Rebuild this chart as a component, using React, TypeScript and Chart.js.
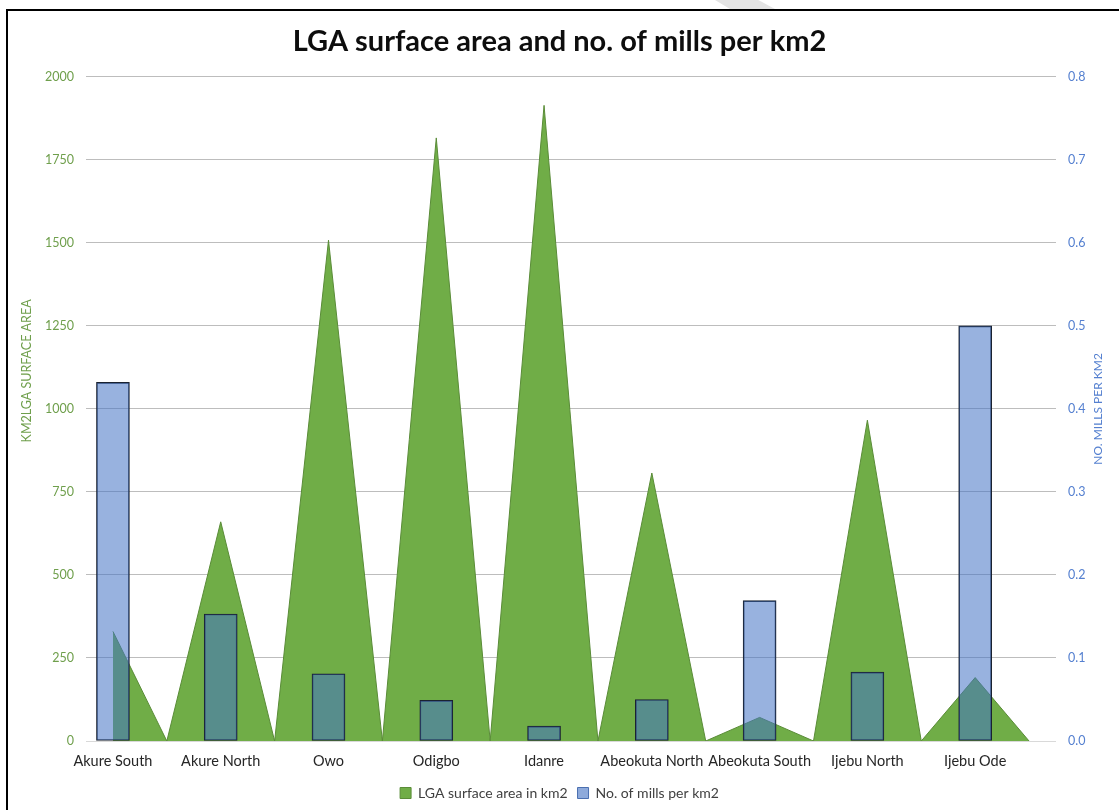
import React, { useEffect, useRef } from 'react';
import { Chart, registerables } from 'chart.js';

Chart.register(...registerables);

const categories = [
  'Akure South',
  'Akure North',
  'Owo',
  'Odigbo',
  'Idanre',
  'Abeokuta North',
  'Abeokuta South',
  'Ijebu North',
  'Ijebu Ode',
];
const surfaceArea = [330, 660, 1508, 1816, 1914, 807, 71, 966, 191];
const millsPerKm2 = [0.432, 0.153, 0.081, 0.049, 0.018, 0.05, 0.169, 0.083, 0.5];

const seriesNames = ['LGA surface area in km2', 'No. of mills per km2'];
const chartTitle = 'LGA surface area and no. of mills per km2';
const leftAxisTitle = 'KM2LGA SURFACE AREA';
const rightAxisTitle = 'NO. MILLS PER KM2';

const GREEN = '#70AD47';
const GREEN_EDGE = '#5a8c38';
const BLUE_FILL = 'rgba(68,114,196,0.55)';
const LEFT_TICK = '#6f9f4c';
const RIGHT_TICK = '#5580d0';

export default function App() {
  const ref = useRef<HTMLCanvasElement | null>(null);

  useEffect(() => {
    if (!ref.current) return;
    Chart.defaults.font.family = 'Lato, "Open Sans", sans-serif';

    const trianglePoints: { x: number; y: number }[] = [];
    surfaceArea.forEach((v, i) => {
      trianglePoints.push({ x: i, y: v });
      trianglePoints.push({ x: i + 0.5, y: 0 });
    });
    const barPoints = millsPerKm2.map((v, i) => ({ x: i, y: v }));

    const axisTitles = {
      id: 'axisTitles',
      afterDraw(chart: any) {
        const { ctx, chartArea } = chart;
        const midY = (chartArea.top + chartArea.bottom) / 2;
        ctx.save();
        ctx.font = '12.5px Lato, "Open Sans", sans-serif';
        ctx.textAlign = 'center';
        ctx.textBaseline = 'middle';
        ctx.fillStyle = LEFT_TICK;
        ctx.translate(chartArea.left - 59, midY - 38);
        ctx.rotate(-Math.PI / 2);
        ctx.fillText(leftAxisTitle, 0, 0);
        ctx.restore();
        ctx.save();
        ctx.font = '12px Lato, "Open Sans", sans-serif';
        ctx.textAlign = 'center';
        ctx.textBaseline = 'middle';
        ctx.fillStyle = RIGHT_TICK;
        ctx.translate(chartArea.right + 42, midY);
        ctx.rotate(-Math.PI / 2);
        ctx.fillText(rightAxisTitle, 0, 0);
        ctx.restore();
      },
    };

    const chart = new Chart(ref.current, {
      type: 'bar',
      data: {
        datasets: [
          {
            type: 'line',
            label: seriesNames[0],
            data: trianglePoints,
            xAxisID: 'x',
            yAxisID: 'y',
            backgroundColor: GREEN,
            borderColor: GREEN_EDGE,
            borderWidth: 1,
            pointRadius: 0,
            tension: 0,
            fill: 'origin',
            order: 2,
          } as any,
          {
            type: 'bar',
            label: seriesNames[1],
            data: barPoints,
            xAxisID: 'x',
            yAxisID: 'y2',
            backgroundColor: BLUE_FILL,
            borderColor: '#1a2230',
            borderWidth: 1,
            borderSkipped: false,
            barThickness: 33,
            order: 1,
          } as any,
        ],
      },
      options: {
        responsive: false,
        animation: false,
        devicePixelRatio: 1,
        events: [],
        layout: { padding: 0 },
        plugins: {
          title: {
            display: true,
            text: chartTitle,
            color: '#0d0d0d',
            font: { size: 29, weight: 'bold' },
            padding: { top: 24, bottom: 18 },
          },
          legend: {
            position: 'bottom',
            labels: {
              color: '#404040',
              font: { size: 14 },
              boxWidth: 11,
              boxHeight: 11,
              padding: 10,
              sort: (a: any, b: any) => a.datasetIndex - b.datasetIndex,
              generateLabels: (chart: any) => {
                const items = Chart.defaults.plugins.legend.labels.generateLabels(chart);
                items.forEach((it: any) => {
                  if (it.datasetIndex === 0) {
                    it.fillStyle = GREEN;
                    it.strokeStyle = GREEN_EDGE;
                  } else {
                    it.fillStyle = '#8eaadb';
                    it.strokeStyle = '#4a6fb0';
                  }
                  it.lineWidth = 1;
                });
                return items;
              },
            },
          },
          tooltip: { enabled: false },
        },
        scales: {
          x: {
            type: 'linear',
            min: -0.25,
            max: 8.75,
            offset: false,
            grid: { display: false, drawTicks: false },
            border: { display: false },
            afterBuildTicks: (scale: any) => {
              scale.ticks = categories.map((_, i) => ({ value: i }));
            },
            afterFit: (scale: any) => {
              scale.height = 35;
            },
            ticks: {
              autoSkip: false,
              maxRotation: 0,
              padding: 12,
              color: '#262626',
              font: { size: 14.5 },
              callback: (v: any) => categories[Math.round(Number(v))] ?? '',
            },
          },
          y: {
            type: 'linear',
            position: 'left',
            min: 0,
            max: 2000,
            ticks: {
              stepSize: 250,
              color: LEFT_TICK,
              font: { size: 12.5 },
              padding: 12,
              callback: (v: any) => String(v),
            },
            grid: {
              drawTicks: false,
              color: (c: any) => (c.tick && c.tick.value === 0 ? '#d9d9d9' : '#bdbdbd'),
              lineWidth: 1,
            },
            border: { display: false },
            afterFit: (scale: any) => {
              scale.width = 86;
            },
          },
          y2: {
            type: 'linear',
            position: 'right',
            min: 0,
            max: 0.8,
            ticks: {
              stepSize: 0.1,
              color: RIGHT_TICK,
              font: { size: 12.5 },
              padding: 12,
              callback: (v: any) => Number(v).toFixed(1),
            },
            grid: { drawOnChartArea: false, drawTicks: false },
            border: { display: false },
            afterFit: (scale: any) => {
              scale.width = 63;
            },
          },
        },
      },
      plugins: [axisTitles],
    });

    return () => chart.destroy();
  }, []);

  return (
    <div
      style={{
        position: 'fixed',
        left: 0,
        top: 0,
        width: 1119,
        height: 810,
        overflow: 'hidden',
        background: '#fff',
      }}
    >
      <div
        style={{
          position: 'absolute',
          left: 715,
          top: 0,
          width: 60,
          height: 9,
          background: '#e4e4e4',
          clipPath: 'polygon(0 0, 72% 0, 100% 100%, 25% 100%)',
        }}
      />
      <div
        style={{
          position: 'absolute',
          left: 6,
          top: 9,
          width: 1200,
          height: 900,
          border: '2px solid #000',
          boxSizing: 'border-box',
        }}
      />
      <canvas
        ref={ref}
        width={1119}
        height={810}
        style={{ position: 'absolute', left: 0, top: 0, width: 1119, height: 810 }}
      />
    </div>
  );
}
